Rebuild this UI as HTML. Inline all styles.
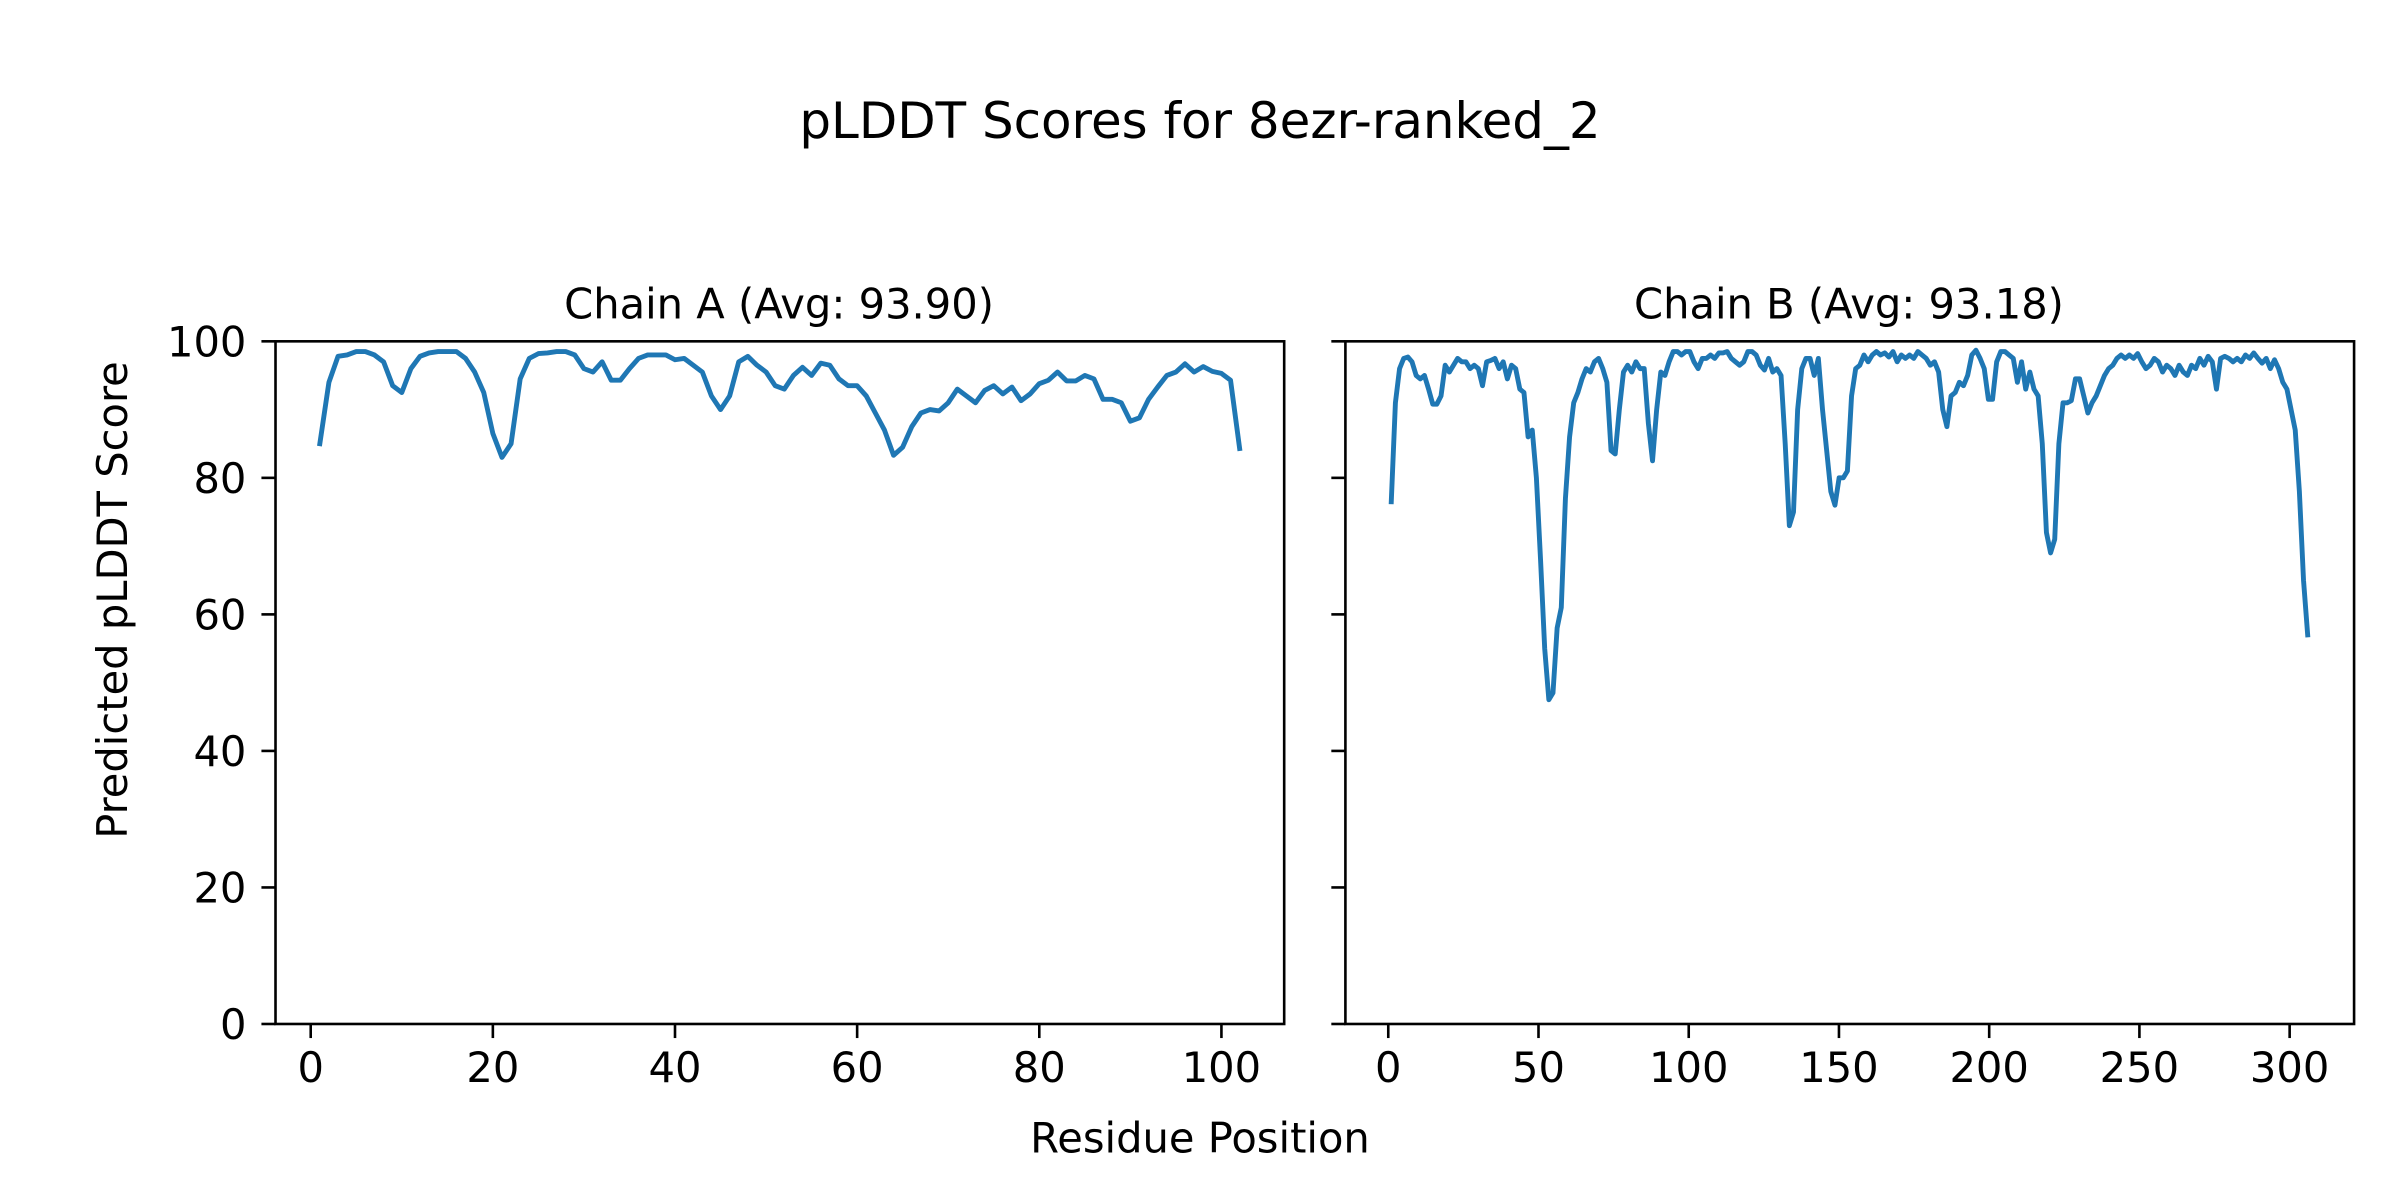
<!DOCTYPE html>
<html><head><meta charset="utf-8"><style>
html,body{margin:0;padding:0;background:#fff}
svg{display:block}
text{font-family:"DejaVu Sans","Liberation Sans",sans-serif;fill:#000}
</style></head><body>
<svg id="s" width="2400" height="1200" viewBox="0 0 1568 784" xmlns="http://www.w3.org/2000/svg">
<rect width="1568" height="784" fill="#fff"/>
<text x="784" y="90" font-size="32.6" text-anchor="middle">pLDDT Scores for 8ezr-ranked_2</text>
<text x="509" y="208" font-size="27.2" text-anchor="middle">Chain A (Avg: 93.90)</text>
<text x="1208" y="208" font-size="27.2" text-anchor="middle">Chain B (Avg: 93.18)</text>
<text x="784" y="753" font-size="27.2" text-anchor="middle">Residue Position</text>
<text transform="translate(83,392) rotate(-90)" font-size="27.2" text-anchor="middle">Predicted pLDDT Score</text>
<g id="ax"></g>
</svg>
<script>
(function(){
const ns="http://www.w3.org/2000/svg",G=document.getElementById('ax');
function el(t,a,txt){const e=document.createElementNS(ns,t);for(const k in a)e.setAttribute(k,a[k]);if(txt!==undefined)e.textContent=txt;G.appendChild(e);return e;}
const TOP=223,BOT=669,yv=v=>BOT-(v/100)*(BOT-TOP);
const FS=27.2,TL=9.2,SW=1.7;
for(let v=0;v<=100;v+=20){const y=yv(v);
 el('line',{x1:180-TL,x2:180,y1:y,y2:y,stroke:'#000','stroke-width':SW});
 el('text',{x:161,y:y+9.8,'font-size':FS,'text-anchor':'end'},String(v));
 el('line',{x1:879-TL,x2:879,y1:y,y2:y,stroke:'#000','stroke-width':SW});
}
const ax=v=>203+v*5.95;
for(let v=0;v<=100;v+=20){const x=ax(v);el('line',{x1:x,x2:x,y1:669,y2:669+TL,stroke:'#000','stroke-width':SW});el('text',{x:x,y:707,'font-size':FS,'text-anchor':'middle'},String(v));}
const A=[85,94,97.8,98,98.5,98.5,98,97,93.5,92.5,96,97.8,98.3,98.5,98.5,98.5,97.5,95.5,92.5,86.5,83,85,94.5,97.5,98.2,98.3,98.5,98.5,98,96,95.5,97,94.3,94.3,96,97.5,98,98,98,97.3,97.5,96.5,95.5,92,90,92,97,97.8,96.5,95.5,93.5,93,95,96.2,95,96.8,96.5,94.5,93.5,93.5,92,89.5,87,83.3,84.5,87.5,89.5,90,89.8,91,93,92,91,92.8,93.5,92.3,93.3,91.3,92.3,93.8,94.3,95.5,94.2,94.2,95,94.5,91.5,91.5,91,88.3,88.8,91.5,93.3,95,95.5,96.7,95.5,96.3,95.6,95.3,94.3,84.3];
el('polyline',{points:A.map((v,i)=>ax(i+1).toFixed(2)+','+yv(v).toFixed(2)).join(' '),fill:'none',stroke:'#1f77b4','stroke-width':3.2,'stroke-linejoin':'round','stroke-linecap':'square'});
el('rect',{x:180,y:223,width:659,height:446,fill:'none',stroke:'#000','stroke-width':SW});
const bx=v=>907+v*1.963;
for(let v=0;v<=300;v+=50){const x=bx(v);el('line',{x1:x,x2:x,y1:669,y2:669+TL,stroke:'#000','stroke-width':SW});el('text',{x:x,y:707,'font-size':FS,'text-anchor':'middle'},String(v));}
const K=[[1,76.5],[2,91],[3,96],[4,97.5],[5,97.7],[6,97],[7,95],[8,94.5],[9,95],[10,93],[11,90.8],[12,90.8],[13,92],[14,96.5],[15,95.5],[16,96.5],[17,97.5],[18,97],[19,97],[20,96],[21,96.5],[22,96],[23,93.5],[24,97],[25,97.2],[26,97.5],[27,96],[28,97],[29,94.5],[30,96.5],[31,96],[32,93],[33,92.5],[34,86],[35,87],[36,80],[37,68],[38,55],[39,47.5],[40,48.5],[41,58],[42,61],[43,77],[44,86],[45,91],[46,92.5],[47,94.5],[48,96],[49,95.5],[50,97],[51,97.5],[52,96],[53,94],[54,84],[55,83.5],[56,90],[57,95.5],[58,96.5],[59,95.5],[60,97],[61,96],[62,96],[63,88],[64,82.5],[65,90],[66,95.5],[67,95],[68,97],[69,98.5],[70,98.5],[71,98],[72,98.5],[73,98.5],[74,97],[75,96],[76,97.5],[77,97.5],[78,98],[79,97.5],[80,98.3],[81,98.3],[82,98.5],[83,97.5],[84,97],[85,96.5],[86,97],[87,98.5],[88,98.5],[89,98],[90,96.5],[91,95.8],[92,97.5],[93,95.5],[94,96],[95,95],[96,85],[97,73],[98,75],[99,90],[100,96],[101,97.5],[102,97.5],[103,95],[104,97.5],[105,90],[106,84],[107,78],[108,76],[109,80],[110,80],[111,81],[112,92],[113,96],[114,96.5],[115,98],[116,97],[117,98],[118,98.5],[119,98],[120,98.3],[121,97.7],[122,98.5],[123,97],[124,98],[125,97.5],[126,98],[127,97.5],[128,98.5],[129,98],[130,97.5],[131,96.5],[132,97],[133,95.5],[134,90],[135,87.5],[136,92],[137,92.5],[138,94],[139,93.5],[140,95],[141,98],[142,98.7],[143,97.5],[144,96],[145,91.5],[146,91.5],[147,97],[148,98.5],[149,98.5],[150,98],[151,97.5],[152,94],[153,97],[154,93],[155,95.5],[156,93],[157,92],[158,85],[159,72],[160,69],[161,71],[162,85],[163,91],[164,91],[165,91.3],[166,94.5],[167,94.5],[168,92],[169,89.5],[170,91],[171,92],[172,93.5],[173,95],[174,96],[175,96.5],[176,97.5],[177,98],[178,97.5],[179,98],[180,97.5],[181,98.2],[182,97],[183,96],[184,96.5],[185,97.5],[186,97],[187,95.5],[188,96.5],[189,96],[190,95],[191,96.5],[192,95.5],[193,95],[194,96.5],[195,96],[196,97.5],[197,96.5],[198,97.8],[199,97],[200,93],[201,97.5],[202,97.8],[203,97.5],[204,97],[205,97.5],[206,97],[207,98],[208,97.5],[209,98.3],[210,97.5],[211,96.8],[212,97.5],[213,96],[214,97.3],[215,96],[216,94],[217,93],[218,90],[219,87],[220,78],[221,65],[222,57]];
const bs=305/221;
el('polyline',{points:K.map(p=>bx(1+(p[0]-1)*bs).toFixed(2)+','+yv(p[1]).toFixed(2)).join(' '),fill:'none',stroke:'#1f77b4','stroke-width':3.2,'stroke-linejoin':'round','stroke-linecap':'square'});
el('rect',{x:879,y:223,width:659,height:446,fill:'none',stroke:'#000','stroke-width':SW});
})();
</script>
</body></html>
